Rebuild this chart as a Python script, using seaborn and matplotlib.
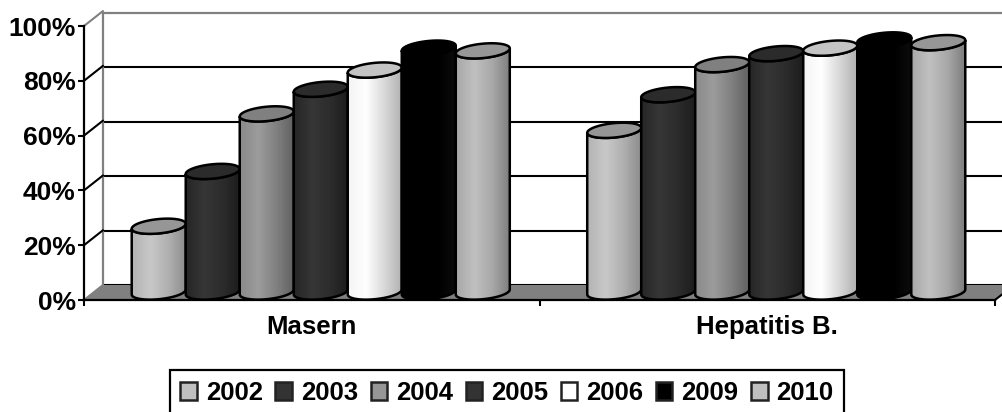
"""Grouped cylinder chart (fake 3D look) for vaccination rates."""
import matplotlib

matplotlib.use("Agg")
import matplotlib.pyplot as plt
from matplotlib.colors import LinearSegmentedColormap
from matplotlib.patches import PathPatch, Polygon
from matplotlib.path import Path
import numpy as np
import pandas as pd
import seaborn as sns

W, H = 1003, 412

categories = ["Masern", "Hepatitis B."]
years = ["2002", "2003", "2004", "2005", "2006", "2009", "2010"]
masern = [24, 44, 65, 74, 81, 89, 88]
hepatitis = [59, 72, 83, 87, 89, 92, 91]
y_ticks = [0, 20, 40, 60, 80, 100]
y_labels = ["0%", "20%", "40%", "60%", "80%", "100%"]

swatches = ["#c0c0c0", "#333333", "#969696", "#333333", "#ffffff", "#000000", "#c0c0c0"]
tops = ["#969696", "#2b2b2b", "#808080", "#2b2b2b", "#c4c4c4", "#000000", "#969696"]
shades = [
    ["#b4b4b4", "#c8c8c8", "#b0b0b0", "#8c8c8c"],
    ["#262626", "#363636", "#2c2c2c", "#1c1c1c"],
    ["#8a8a8a", "#9c9c9c", "#808080", "#606060"],
    ["#262626", "#363636", "#2c2c2c", "#1c1c1c"],
    ["#f4f4f4", "#ffffff", "#d8d8d8", "#b0b0b0"],
    ["#000000", "#000000", "#000000", "#0c0c0c"],
    ["#a8a8a8", "#c0c0c0", "#a8a8a8", "#7c7c7c"],
]

df = pd.DataFrame(
    {
        "group": [c for c in categories for _ in years],
        "year": years * 2,
        "value": masern + hepatitis,
    }
)


def plane(fig, left, right, top, bottom):
    # axes placed by pixel edges, y down like the picture
    return fig.add_axes(
        [left / W, 1 - bottom / H, (right - left) / W, (bottom - top) / H]
    )


sns.set_theme(style="white")
plt.rcParams["font.family"] = ["Liberation Sans", "DejaVu Sans"]
plt.rcParams["font.weight"] = "bold"

fig = plt.figure(figsize=(W / 100, H / 100), dpi=100)

# back wall
ax_back = plane(fig, 103, 1006, 13, 285)
ax_back.set_ylim(0, 100)
ax_back.set_xticks([])
ax_back.set_yticks(y_ticks[:-1])
ax_back.set_yticklabels([])
ax_back.tick_params(left=False)
ax_back.grid(axis="y", color="black", linewidth=1.5)
sns.despine(ax=ax_back, top=False, right=True, bottom=True)
for side in ["left", "top"]:
    ax_back.spines[side].set_color("#808080")
    ax_back.spines[side].set_linewidth(1.6)

# front plane with the axes
ax = plane(fig, 84, 995, 26, 300)
ax.patch.set_alpha(0)
ax.set_xlim(-0.5, 1.5)
ax.set_ylim(0, 100)
ax.set_xticks([0, 1])
ax.set_xticklabels(categories, fontsize=18.5, fontweight="bold", color="black")
ax.set_xticks([-0.5, 0.5, 1.5], minor=True)
ax.set_yticks(y_ticks)
ax.set_yticklabels(y_labels, fontsize=19, fontweight="bold", color="black")
ax.tick_params(axis="x", which="major", length=0, pad=11)
ax.tick_params(axis="x", which="minor", length=4, width=1.5, color="black", bottom=True)
ax.tick_params(axis="y", length=4, width=1.5, color="black", left=True, pad=2)
sns.despine(ax=ax)
for side in ["left", "bottom"]:
    ax.spines[side].set_color("black")
    ax.spines[side].set_linewidth(1.6)

dx = 19 / (911 / 2)
dy = 15 / 2.74
ax.add_patch(
    Polygon(
        [(-0.5, 0), (1.5, 0), (1.5 + dx, dy), (-0.5 + dx, dy)],
        closed=True, facecolor="#808080", edgecolor="none", clip_on=False, zorder=0,
    )
)
for t in y_ticks:
    ax.plot(
        [-0.5, -0.5 + dx], [t, t + dy],
        color="#808080" if t in (0, 100) else "black",
        lw=1.5, clip_on=False, zorder=1,
    )
ax.plot([1.5, 1.5 + dx], [0, dy], color="black", lw=1.5, clip_on=False, zorder=1)

# cylinders, on their own plane half way into the depth
ax_bars = plane(fig, 93, 1004, 18, 292)
ax_bars.patch.set_alpha(0)
sns.barplot(
    data=df, x="group", y="value", hue="year", order=categories, hue_order=years,
    palette=swatches, width=0.83, gap=0, ax=ax_bars,
)

ry = 7.2 / 2.74
tilt = 2.5 / 2.74
t_front = np.linspace(np.pi, 2 * np.pi, 40)
t_all = np.linspace(0, 2 * np.pi, 80)

for i, container in enumerate(ax_bars.containers):
    cmap = LinearSegmentedColormap.from_list(f"shade{i}", shades[i])
    for patch in container:
        x0, w, h = patch.get_x(), patch.get_width(), patch.get_height()
        patch.set_visible(False)
        cx, rx = x0 + w / 2, w / 2
        ex = cx + rx * np.cos(t_front)
        low = ry * np.sin(t_front) + tilt * np.cos(t_front)
        # body: bottom front arc, then up and back along the top front arc
        verts = np.vstack(
            [
                np.column_stack([ex, low]),
                np.column_stack([ex[::-1], (h + low)[::-1]]),
                [[ex[0], low[0]]],
            ]
        )
        z = 10 + i
        img = ax_bars.imshow(
            np.linspace(0, 1, 64)[None, :], cmap=cmap, aspect="auto",
            extent=(x0, x0 + w, -ry - tilt, h + ry), zorder=z, interpolation="bilinear",
        )
        outline = PathPatch(
            Path(verts), facecolor="none", edgecolor="black", lw=1.8,
            clip_on=False, zorder=z + 0.2,
        )
        ax_bars.add_patch(outline)
        img.set_clip_path(outline)
        # images fall back to the axes box otherwise and lose the rounded foot
        img.set_clip_box(fig.bbox)
        cap = np.column_stack(
            [cx + rx * np.cos(t_all), h + ry * np.sin(t_all) + tilt * np.cos(t_all)]
        )
        ax_bars.add_patch(
            Polygon(
                cap, closed=True, facecolor=tops[i], edgecolor="black", lw=1.8,
                clip_on=False, zorder=z + 0.4,
            )
        )

ax_bars.set_xlim(-0.5, 1.5)
ax_bars.set_ylim(0, 100)
ax_bars.set_axis_off()

sns.move_legend(
    ax_bars, "center", bbox_to_anchor=((507 - 93) / 911, (292 - 393) / 274), ncol=7,
    frameon=True, title=None, fontsize=18.5, handlelength=0.65, handleheight=0.65,
    handletextpad=0.35, columnspacing=0.48, borderpad=0.42, fancybox=False,
    borderaxespad=0,
)
legend = ax_bars.get_legend()
legend.get_frame().set_edgecolor("black")
legend.get_frame().set_linewidth(1.6)
legend.get_frame().set_alpha(1)
legend.set_zorder(50)
for handle in legend.get_patches():
    handle.set_edgecolor("#222222")
    handle.set_linewidth(1.8)
for text in legend.get_texts():
    text.set_fontweight("bold")
    text.set_color("black")

fig.savefig("out.png", dpi=100)
plt.close(fig)
